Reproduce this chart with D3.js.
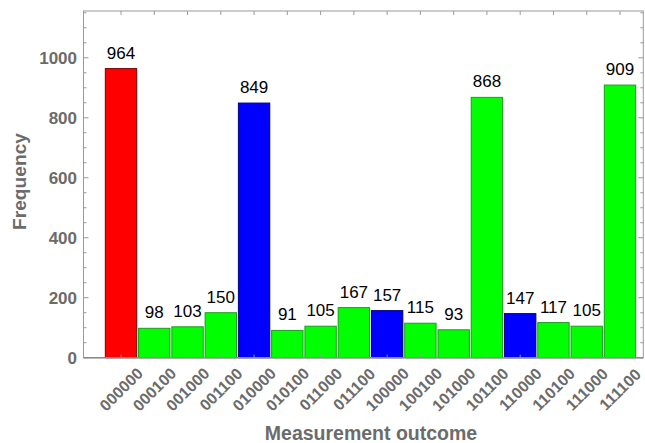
<!DOCTYPE html>
<html>
<head>
<meta charset="utf-8">
<script src="https://cdn.jsdelivr.net/npm/d3@7"></script>
<style>
  body { margin: 0; background: #fff; }
  svg { font-family: "Liberation Sans", Arial, sans-serif; }
</style>
</head>
<body>
<div id="chart"></div>
<script>
// Chart data
const outcomes = ["000000", "000100", "001000", "001100", "010000", "010100", "011000", "011100",
                  "100000", "100100", "101000", "101100", "110000", "110100", "111000", "111100"];
const counts = [964, 98, 103, 150, 849, 91, 105, 167, 157, 115, 93, 868, 147, 117, 105, 909];
const groups = ["red", "green", "green", "green", "blue", "green", "green", "green",
                "blue", "green", "green", "green", "blue", "green", "green", "green"];
const yTicks = [0, 200, 400, 600, 800, 1000];

class BarChart {
    constructor(_config) {
        this.config = {
            parentElement: _config.parentElement,
            containerWidth: _config.containerWidth || 645,
            containerHeight: _config.containerHeight || 443,
            margin: { top: 11, right: 1.7, bottom: 85.3, left: 83.5 }
        };
        this.initVis();
    }

    initVis() {
        const vis = this;
        vis.width = vis.config.containerWidth - vis.config.margin.left - vis.config.margin.right;
        vis.height = vis.config.containerHeight - vis.config.margin.top - vis.config.margin.bottom;

        vis.svg = d3.select(vis.config.parentElement).append("svg")
            .attr("width", vis.config.containerWidth)
            .attr("height", vis.config.containerHeight)
            .append("g")
            .attr("transform", `translate(${vis.config.margin.left}, ${vis.config.margin.top})`);

        // bars sit a bit right of the left frame, like Mathematica's padding
        vis.xScale = d3.scaleBand()
            .domain(outcomes)
            .range([20.9, 553.1])
            .paddingInner(0.057)
            .paddingOuter(0.028);
        vis.yScale = d3.scaleLinear().domain([0, 1156]).range([vis.height, 0]);

        vis.fills = { red: "#ff0000", green: "#00ff00", blue: "#0000ff" };
        vis.strokes = { red: "#7a0000", green: "#1f9a1f", blue: "#00007a" };
    }

    renderVis() {
        const vis = this;
        const frameColor = "#9a9a9a";
        const labelColor = "#6b6b6b";

        // frame
        vis.svg.append("rect")
            .attr("x", 0).attr("y", 0)
            .attr("width", vis.width).attr("height", vis.height)
            .attr("fill", "none")
            .attr("stroke", frameColor)
            .attr("stroke-width", 1);

        // y ticks, major and minor, on left and right sides
        const minor = d3.range(0, 1151, 50).filter(v => v % 200 !== 0);
        [[0, 1], [vis.width, -1]].forEach(([x0, dir]) => {
            vis.svg.append("g").selectAll("line")
                .data(yTicks)
                .join("line")
                .attr("x1", x0).attr("x2", x0 + dir * 5)
                .attr("y1", d => vis.yScale(d)).attr("y2", d => vis.yScale(d))
                .attr("stroke", frameColor);
            vis.svg.append("g").selectAll("line")
                .data(minor)
                .join("line")
                .attr("x1", x0).attr("x2", x0 + dir * 3)
                .attr("y1", d => vis.yScale(d)).attr("y2", d => vis.yScale(d))
                .attr("stroke", frameColor);
        });

        // x ticks at bar centres, top and bottom
        const cx = d => vis.xScale(d) + vis.xScale.bandwidth() / 2;
        vis.svg.append("g").selectAll("line")
            .data(outcomes)
            .join("line")
            .attr("x1", cx).attr("x2", cx)
            .attr("y1", 0).attr("y2", 4)
            .attr("stroke", frameColor);

        // bars
        vis.svg.append("g").selectAll("rect")
            .data(outcomes)
            .join("rect")
            .attr("x", d => vis.xScale(d))
            .attr("y", (d, i) => vis.yScale(counts[i]))
            .attr("width", vis.xScale.bandwidth())
            .attr("height", (d, i) => vis.height - vis.yScale(counts[i]))
            .attr("fill", (d, i) => vis.fills[groups[i]])
            .attr("stroke", (d, i) => vis.strokes[groups[i]])
            .attr("stroke-width", 1);

        vis.svg.append("g").selectAll("line")
            .data(outcomes)
            .join("line")
            .attr("x1", cx).attr("x2", cx)
            .attr("y1", vis.height).attr("y2", vis.height - 3)
            .attr("stroke", frameColor);

        // bottom axis line drawn a bit heavier
        vis.svg.append("line")
            .attr("x1", 0).attr("x2", vis.width)
            .attr("y1", vis.height).attr("y2", vis.height)
            .attr("stroke", "#8a8a8a")
            .attr("stroke-width", 1.5);

        // value labels above bars
        vis.svg.append("g").selectAll("text")
            .data(outcomes)
            .join("text")
            .attr("x", cx)
            .attr("y", (d, i) => vis.yScale(counts[i]) - 10)
            .attr("text-anchor", "middle")
            .attr("font-size", 17)
            .attr("fill", "#000")
            .text((d, i) => counts[i]);

        // y tick labels
        vis.svg.append("g").selectAll("text")
            .data(yTicks)
            .join("text")
            .attr("x", -6.5)
            .attr("y", d => vis.yScale(d))
            .attr("dy", "0.36em")
            .attr("text-anchor", "end")
            .attr("font-size", 17)
            .attr("font-weight", "bold")
            .attr("fill", labelColor)
            .text(d => d);

        // rotated category labels centred under each bar
        vis.svg.append("g").selectAll("text")
            .data(outcomes)
            .join("text")
            .attr("transform", d => `translate(${cx(d)}, ${vis.height + 31.5}) rotate(-45)`)
            .attr("text-anchor", "middle")
            .attr("dy", "0.36em")
            .attr("font-size", 16)
            .attr("font-weight", "bold")
            .attr("fill", labelColor)
            .text(d => d);

        // axis titles, centred on the plot area
        vis.svg.append("text")
            .attr("x", 371 - vis.config.margin.left)
            .attr("y", 440 - vis.config.margin.top)
            .attr("text-anchor", "middle")
            .attr("font-size", 19.5)
            .attr("font-weight", "bold")
            .attr("fill", labelColor)
            .text("Measurement outcome");

        vis.svg.append("text")
            .attr("transform", `translate(${25.5 - vis.config.margin.left}, ${181.5 - vis.config.margin.top}) rotate(-90)`)
            .attr("text-anchor", "middle")
            .attr("font-size", 19.2)
            .attr("font-weight", "bold")
            .attr("fill", labelColor)
            .text("Frequency");
    }
}

const barChart = new BarChart({ parentElement: "#chart", containerWidth: 645, containerHeight: 443 });
barChart.renderVis();
</script>
</body>
</html>
